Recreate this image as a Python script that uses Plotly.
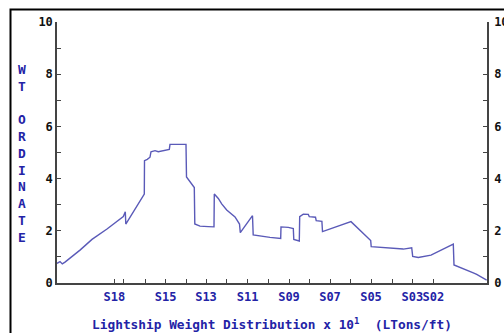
import plotly.graph_objects as go

# Position along the ship (arbitrary length units, left = aft) and weight ordinate
pos = [0, 3, 5.3, 8, 23, 35, 50, 66.3, 68.3, 68.8, 87.3, 87.5, 90.3, 93, 94, 98, 101.3,
       108, 112.3, 113, 129, 129.5, 133, 137.3, 137.8, 143, 151.3, 157, 157.3, 161.3,
       164.7, 169.7, 178, 182.5, 183.3, 195.5, 196.2, 203, 213, 223.7, 224, 231.3,
       236.3, 236.8, 242.3, 242.7, 246.3, 251.3, 252.3, 258.5, 259.2, 264.9, 265.5,
       294, 313.7, 314.2, 333, 346.3, 354.7, 355.7, 361.3, 374, 396.3, 397, 416.3,
       419.7, 429.7]
wt = [0.75, 0.82, 0.73, 0.80, 1.26, 1.67, 2.07, 2.55, 2.73, 2.26, 3.41, 4.69, 4.74, 4.82,
      5.03, 5.07, 5.03, 5.08, 5.12, 5.31, 5.31, 4.06, 3.88, 3.66, 2.26, 2.18, 2.16, 2.15,
      3.41, 3.24, 3.03, 2.80, 2.53, 2.26, 1.93, 2.58, 1.84, 1.80, 1.75, 1.71, 2.15, 2.13,
      2.09, 1.67, 1.61, 2.54, 2.64, 2.63, 2.54, 2.52, 2.39, 2.36, 1.97, 2.35, 1.63, 1.39,
      1.33, 1.30, 1.35, 1.02, 0.98, 1.07, 1.49, 0.69, 0.39, 0.33, 0.11]

# labelled stations and unlabelled station ticks
station_pos = [57.3, 108.7, 149, 190.7, 232, 273, 314, 355.3, 376.3]
station_lbl = ["S18", "S15", "S13", "S11", "S09", "S07", "S05", "S03", "S02"]
minor_station_pos = [66.3, 88, 129, 169.7, 211.3, 252.3, 293, 335]

y_major = [0, 2, 4, 6, 8, 10]
y_minor = [1, 3, 5, 7, 9]

x_title = "Lightship Weight Distribution x 10<sup>1</sup>  (LTons/ft)"
y_title = "W<br>T<br><br>O<br>R<br>D<br>I<br>N<br>A<br>T<br>E"

FONT = "DejaVu Sans Mono"
BLUE = "#2323a6"
LINE = "#5a5ab8"
AX = "#444444"

W, H = 504, 333
L, R, T, B = 57, 17, 22, 50
pw, ph = W - L - R, H - T - B

fig = go.Figure()
fig.add_trace(go.Scatter(x=pos, y=wt, mode="lines",
                         line=dict(color=LINE, width=1.4),
                         showlegend=False, hoverinfo="skip"))
fig.add_trace(go.Scatter(x=pos, y=wt, mode="lines", yaxis="y2",
                         line=dict(color="rgba(0,0,0,0)", width=0),
                         showlegend=False, hoverinfo="skip"))

axis_common = dict(showgrid=False, zeroline=False, showline=True, linecolor=AX,
                   linewidth=1.5, ticks="inside", ticklen=4, tickcolor=AX,
                   tickwidth=1, automargin=False)

def yaxis_def(**extra):
    d = dict(range=[0, 10], tickmode="array", tickvals=y_major,
             ticktext=[str(v) for v in y_major],
             tickfont=dict(family=FONT, size=12, color="#111111", weight="bold"),
             minor=dict(tickmode="array", tickvals=y_minor, ticks="inside",
                        ticklen=4, tickcolor=AX, tickwidth=1, showgrid=False),
             **axis_common)
    d.update(extra)
    return d

fig.update_layout(
    width=W, height=H,
    margin=dict(l=L, r=R, t=T, b=B, pad=0),
    paper_bgcolor="white", plot_bgcolor="white",
    xaxis=dict(range=[0, 430], tickmode="array", tickvals=station_pos,
               ticktext=station_lbl, tickangle=0, ticklabelstandoff=2,
               tickfont=dict(family=FONT, size=12, color=BLUE, weight="bold"),
               minor=dict(tickmode="array", tickvals=minor_station_pos, ticks="inside",
                          ticklen=4, tickcolor=AX, tickwidth=1, showgrid=False),
               title=dict(text=x_title, standoff=17,
                          font=dict(family=FONT, size=12.8, color=BLUE, weight="bold")),
               **axis_common),
    yaxis=yaxis_def(),
    yaxis2=yaxis_def(overlaying="y", side="right", ticklabelstandoff=3),
    annotations=[dict(text=y_title, xref="paper", yref="paper",
                      x=(21.7 - L) / pw, y=(H - B - 153.3) / ph,
                      xanchor="center", yanchor="middle", showarrow=False,
                      font=dict(family=FONT, size=12.9, color=BLUE, weight="bold"))],
    shapes=[dict(type="rect", xref="paper", yref="paper",
                 x0=(10.5 - L) / pw, x1=(W + 20 - L) / pw,
                 y0=-(B + 30) / ph, y1=(H - B - 9.5) / ph,
                 line=dict(color="black", width=2))],
)

fig.write_html("out.html", config={"displayModeBar": False})
